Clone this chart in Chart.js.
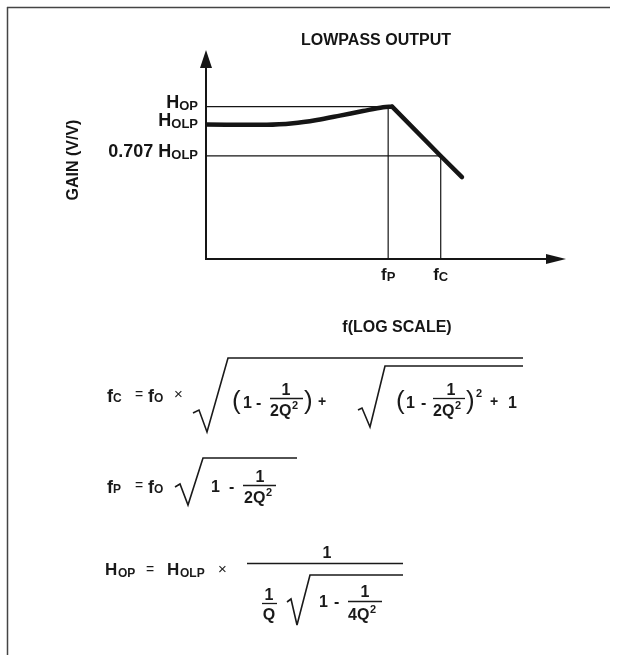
<!DOCTYPE html>
<html lang="en">
<head>
<meta charset="UTF-8">
<title>Lowpass Output</title>
<script src="https://cdn.jsdelivr.net/npm/chart.js"></script>
<style>
    html, body { margin: 0; padding: 0; background: #fff; }
    #wrap { position: relative; width: 622px; height: 655px; overflow: hidden; }
    #gainChart, #notes { position: absolute; left: 0; top: 0; }
    #notes text { font-family: "Liberation Sans", Arial, sans-serif; font-weight: bold; fill: #1a1a1a; }
    #notes .thin { font-weight: normal; }
    #notes line, #notes path { stroke: #1a1a1a; fill: none; }
</style>
</head>
<body>
<div id="wrap">
    <canvas id="gainChart" width="622" height="655"></canvas>
    <svg id="notes" width="622" height="655">
        <!-- frame -->
        <line x1="7.5" y1="7" x2="7.5" y2="655" stroke-width="1.5" style="stroke:#444"/>
        <line x1="7" y1="7.5" x2="610" y2="7.5" stroke-width="1.5" style="stroke:#444"/>

        <!-- fC = fO x sqrt((1 - 1/2Q^2) + sqrt((1 - 1/2Q^2)^2 + 1)) -->
        <text x="107" y="402" font-size="18">f</text><text x="113" y="402" font-size="12">C</text>
        <text x="135" y="399" font-size="14" class="thin">=</text>
        <text x="148" y="402" font-size="18">f</text><text x="154" y="402" font-size="12">O</text>
        <text x="174" y="399" font-size="15" class="thin">×</text>
        <path d="M193,413 L199,410 L207,432 L228,358 L523,358" stroke-width="1.6"/>
        <text x="232" y="409" font-size="26" class="thin">(</text>
        <text x="243" y="408" font-size="16">1</text>
        <text x="256" y="408" font-size="16">-</text>
        <text x="286" y="395" font-size="16" text-anchor="middle">1</text>
        <line x1="270" y1="398.5" x2="303" y2="398.5" stroke-width="1.3"/>
        <text x="270" y="416" font-size="16">2</text><text x="279" y="416" font-size="16">Q</text><text x="292" y="409" font-size="11">2</text>
        <text x="304" y="409" font-size="26" class="thin">)</text>
        <text x="318" y="406" font-size="14">+</text>
        <path d="M358,410 L362,408 L370,427 L385,366 L523,366" stroke-width="1.6"/>
        <text x="396" y="409" font-size="26" class="thin">(</text>
        <text x="406" y="408" font-size="16">1</text>
        <text x="421" y="408" font-size="16">-</text>
        <text x="451" y="395" font-size="16" text-anchor="middle">1</text>
        <line x1="433" y1="398.5" x2="465" y2="398.5" stroke-width="1.3"/>
        <text x="433" y="416" font-size="16">2</text><text x="442" y="416" font-size="16">Q</text><text x="455" y="409" font-size="11">2</text>
        <text x="466" y="409" font-size="26" class="thin">)</text>
        <text x="476" y="397" font-size="11">2</text>
        <text x="490" y="406" font-size="14">+</text>
        <text x="508" y="408" font-size="16">1</text>

        <!-- fP = fO sqrt(1 - 1/2Q^2) -->
        <text x="107" y="493" font-size="18">f</text><text x="113" y="493" font-size="12">P</text>
        <text x="135" y="490" font-size="14" class="thin">=</text>
        <text x="148" y="493" font-size="18">f</text><text x="154" y="493" font-size="12">O</text>
        <path d="M175,487 L180,484 L188,505 L203,458 L297,458" stroke-width="1.6"/>
        <text x="211" y="492" font-size="16">1</text>
        <text x="229" y="492" font-size="16">-</text>
        <text x="260" y="482" font-size="16" text-anchor="middle">1</text>
        <line x1="243" y1="485.5" x2="276" y2="485.5" stroke-width="1.3"/>
        <text x="244" y="503" font-size="16">2</text><text x="253" y="503" font-size="16">Q</text><text x="266" y="496" font-size="11">2</text>

        <!-- HOP = HOLP x 1 / (1/Q sqrt(1 - 1/4Q^2)) -->
        <text x="105" y="575" font-size="17">H</text><text x="118" y="577" font-size="12">OP</text>
        <text x="146" y="574" font-size="14" class="thin">=</text>
        <text x="167" y="575" font-size="17">H</text><text x="180" y="577" font-size="12">OLP</text>
        <text x="218" y="574" font-size="15" class="thin">×</text>
        <line x1="247" y1="563.5" x2="403" y2="563.5" stroke-width="1.4"/>
        <text x="327" y="558" font-size="16" text-anchor="middle">1</text>
        <text x="269" y="600" font-size="16" text-anchor="middle">1</text>
        <line x1="262" y1="603.5" x2="277" y2="603.5" stroke-width="1.3"/>
        <text x="269" y="620" font-size="16" text-anchor="middle">Q</text>
        <path d="M287,602 L291,599 L297,625 L310,575 L403,575" stroke-width="1.6"/>
        <text x="319" y="607" font-size="16">1</text>
        <text x="334" y="607" font-size="16">-</text>
        <text x="365" y="597" font-size="16" text-anchor="middle">1</text>
        <line x1="348" y1="601.5" x2="382" y2="601.5" stroke-width="1.3"/>
        <text x="348" y="620" font-size="16">4</text><text x="357" y="620" font-size="16">Q</text><text x="370" y="613" font-size="11">2</text>
    </svg>
</div>
<script>
    // x: position along the log frequency axis, y: gain (schematic units, both 0..10)
    const curveFreq = [0, 1.69, 2.42, 3.08, 3.72, 4.36, 4.92, 5.17];
    const curveGain = [6.43, 6.42, 6.49, 6.65, 6.86, 7.08, 7.26, 7.29];
    const rolloffFreq = [5.17, 6.52, 7.11];
    const rolloffGain = [7.29, 4.93, 3.92];
    const levelLabels = ['H_OP', 'H_OLP', '0.707 H_OLP'];
    const levelGain = [7.29, 6.43, 4.93];
    const markerLabels = ['f_P', 'f_C'];
    const markerFreq = [5.06, 6.52];

    const FONT = '"Liberation Sans", Arial, sans-serif';
    const INK = '#151515';

    function pts(xs, ys) {
        return xs.map((x, i) => ({ x: x, y: ys[i] }));
    }

    // text with a subscript part after "_"
    function drawSub(ctx, label, x, y, align, bigPx, smallPx, drop) {
        const parts = label.split('_');
        const big = parts[0], sub = parts[1] || '';
        ctx.font = `bold ${bigPx}px ${FONT}`;
        const wb = ctx.measureText(big).width;
        ctx.font = `bold ${smallPx}px ${FONT}`;
        const ws = ctx.measureText(sub).width;
        let left = x;
        if (align === 'right') left = x - wb - ws;
        if (align === 'center') left = x - (wb + ws) / 2;
        ctx.textAlign = 'left';
        ctx.textBaseline = 'alphabetic';
        ctx.font = `bold ${bigPx}px ${FONT}`;
        ctx.fillText(big, left, y);
        ctx.font = `bold ${smallPx}px ${FONT}`;
        ctx.fillText(sub, left + wb, y + drop);
    }

    const axesAndLabels = {
        id: 'axesAndLabels',
        beforeDatasetsDraw(chart) {
            const { ctx, scales: { x, y } } = chart;
            const x0 = x.getPixelForValue(0), y0 = y.getPixelForValue(0);
            const xEnd = x.getPixelForValue(10), yEnd = y.getPixelForValue(10);
            ctx.save();
            ctx.strokeStyle = INK;
            ctx.fillStyle = INK;
            ctx.lineWidth = 2;
            ctx.beginPath();
            ctx.moveTo(x0, yEnd + 10);
            ctx.lineTo(x0, y0);
            ctx.lineTo(xEnd - 10, y0);
            ctx.stroke();
            ctx.beginPath();
            ctx.moveTo(x0, yEnd);
            ctx.lineTo(x0 - 6, yEnd + 18);
            ctx.lineTo(x0 + 6, yEnd + 18);
            ctx.closePath();
            ctx.fill();
            ctx.beginPath();
            ctx.moveTo(xEnd, y0);
            ctx.lineTo(xEnd - 20, y0 - 5);
            ctx.lineTo(xEnd - 20, y0 + 5);
            ctx.closePath();
            ctx.fill();
            ctx.restore();
        },
        afterDraw(chart) {
            const { ctx, chartArea, scales: { x, y } } = chart;
            ctx.save();
            ctx.fillStyle = INK;
            levelLabels.forEach((lab, i) => {
                drawSub(ctx, lab, x.getPixelForValue(0) - 8, y.getPixelForValue(levelGain[i]) + 1, 'right', 18, 13, 2);
            });
            markerLabels.forEach((lab, i) => {
                drawSub(ctx, lab, x.getPixelForValue(markerFreq[i]), y.getPixelForValue(0) + 21, 'center', 17, 13, 1);
            });
            ctx.textAlign = 'center';
            ctx.textBaseline = 'alphabetic';
            ctx.font = `bold 16px ${FONT}`;
            ctx.fillText('LOWPASS OUTPUT', chartArea.left + 170, 45);
            ctx.fillText('f(LOG SCALE)', chartArea.left + 191, 332);
            ctx.translate(78, 160);
            ctx.rotate(-Math.PI / 2);
            ctx.fillText('GAIN (V/V)', 0, 0);
            ctx.restore();
        }
    };

    const thin = { borderColor: INK, borderWidth: 1.2, pointRadius: 0, showLine: true, tension: 0 };

    new Chart(document.getElementById('gainChart'), {
        type: 'scatter',
        data: {
            datasets: [
                Object.assign({ data: [{ x: 0, y: levelGain[0] }, { x: rolloffFreq[0], y: levelGain[0] }] }, thin),
                Object.assign({ data: [{ x: 0, y: levelGain[2] }, { x: markerFreq[1], y: levelGain[2] }] }, thin),
                Object.assign({ data: [{ x: markerFreq[0], y: 0 }, { x: markerFreq[0], y: levelGain[0] }] }, thin),
                Object.assign({ data: [{ x: markerFreq[1], y: 0 }, { x: markerFreq[1], y: levelGain[2] }] }, thin),
                {
                    data: pts(curveFreq, curveGain),
                    showLine: true,
                    borderColor: INK,
                    borderWidth: 4.5,
                    borderCapStyle: 'round',
                    cubicInterpolationMode: 'monotone',
                    pointRadius: 0
                },
                {
                    data: pts(rolloffFreq, rolloffGain),
                    showLine: true,
                    borderColor: INK,
                    borderWidth: 4.5,
                    borderCapStyle: 'round',
                    tension: 0,
                    pointRadius: 0
                }
            ]
        },
        options: {
            responsive: false,
            animation: false,
            layout: { padding: { left: 206, right: 56, top: 50, bottom: 396 } },
            scales: {
                x: { type: 'linear', min: 0, max: 10, display: false },
                y: { type: 'linear', min: 0, max: 10, display: false }
            },
            plugins: {
                legend: { display: false },
                tooltip: { enabled: false }
            }
        },
        plugins: [axesAndLabels]
    });
</script>
</body>
</html>
